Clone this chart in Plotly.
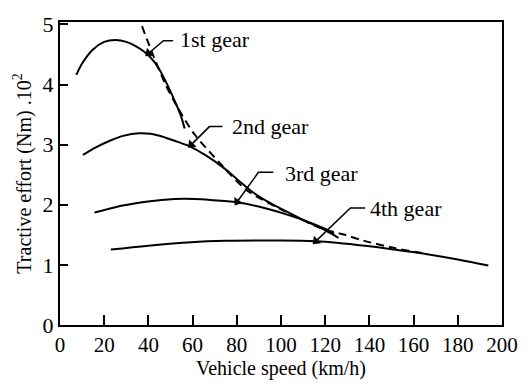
import math
import plotly.graph_objects as go

# ---- data (x: vehicle speed km/h, y: tractive effort x10^2 Nm) ----
gear1_x = [7.4, 10.0, 14.8, 20.0, 25.2, 30.0, 34.2, 38.0, 41.0, 44.5, 48.0, 52.0, 54.5, 56.4]
gear1_y = [4.16, 4.35, 4.58, 4.71, 4.74, 4.71, 4.64, 4.55, 4.45, 4.28, 4.04, 3.72, 3.50, 3.27]

gear2_x = [10.4, 16.0, 22.3, 29.0, 35.6, 41.0, 47.5, 53.0, 59.4, 66.0, 74.2, 80.0, 87.6, 95.0, 102.4, 110.0, 120.3, 126.0]
gear2_y = [2.83, 2.95, 3.06, 3.15, 3.19, 3.18, 3.12, 3.05, 2.96, 2.82, 2.61, 2.43, 2.20, 2.03, 1.89, 1.75, 1.57, 1.45]

gear3_x = [15.6, 25.0, 37.1, 46.0, 56.4, 68.0, 80.2, 92.0, 102.4, 112.0, 120.3, 124.0]
gear3_y = [1.87, 1.96, 2.04, 2.08, 2.10, 2.08, 2.04, 1.95, 1.84, 1.72, 1.595, 1.52]

gear4_x = [23.0, 40.0, 59.4, 75.0, 93.5, 115.8, 138.0, 160.4, 180.0, 193.8]
gear4_y = [1.254, 1.32, 1.378, 1.40, 1.405, 1.395, 1.32, 1.21, 1.09, 0.99]

ideal_x = [37.1, 41.6, 47.5, 53.5, 60.9, 72.7, 84.6, 102.4, 118.8, 129.0, 136.6, 151.4, 165.0]
ideal_y = [4.97, 4.54, 4.02, 3.60, 3.17, 2.68, 2.24, 1.88, 1.60, 1.50, 1.41, 1.28, 1.19]

x_ticks = [0, 20, 40, 60, 80, 100, 120, 140, 160, 180, 200]
y_ticks = [0, 1, 2, 3, 4, 5]

# labels: text, text position, leader: horizontal end -> corner -> arrow tip
labels = ["1st gear", "2nd gear", "3rd gear", "4th gear"]
label_pos = [(53.3, 4.75), (76.9, 3.30), (100.9, 2.52), (139.4, 1.93)]
hend_x = [51.2, 73.5, 96.5, 138.1]
corner_pos = [(46.8, 4.73), (67.6, 3.30), (89.8, 2.54), (131.4, 1.945)]
tip_pos = [(40.1, 4.52), (59.4, 3.00), (80.2, 2.05), (115.8, 1.395)]

FONT = "Liberation Serif"
W, H = 530, 385
ML, MR, MT, MB = 60, 21, 16, 58
XR, YR = [0, 200], [0, 5.04]
sx = (W - ML - MR) / (XR[1] - XR[0])
sy = (H - MT - MB) / (YR[1] - YR[0])

fig = go.Figure()
for xs, ys in [(gear1_x, gear1_y), (gear2_x, gear2_y), (gear3_x, gear3_y), (gear4_x, gear4_y)]:
    fig.add_trace(go.Scatter(x=xs, y=ys, mode="lines",
                             line=dict(color="black", width=2, shape="spline", smoothing=1.0),
                             showlegend=False, hoverinfo="skip"))
fig.add_trace(go.Scatter(x=ideal_x, y=ideal_y, mode="lines",
                         line=dict(color="black", width=2, dash="8px,5px", shape="spline", smoothing=0.8),
                         showlegend=False, hoverinfo="skip"))

for txt, (tx, ty), hx, (cx, cy), (px, py) in zip(labels, label_pos, hend_x, corner_pos, tip_pos):
    fig.add_annotation(x=tx, y=ty, text=txt, showarrow=False, xanchor="left", yanchor="middle",
                       font=dict(family=FONT, size=22, color="black"))
    fig.add_trace(go.Scatter(x=[hx, cx, px], y=[cy, cy, py], mode="lines",
                             line=dict(color="black", width=1.5),
                             showlegend=False, hoverinfo="skip"))
    ang = math.degrees(math.atan2((px - cx) * sx, (py - cy) * sy))
    fig.add_trace(go.Scatter(x=[px], y=[py], mode="markers",
                             marker=dict(symbol="triangle-up", size=9, color="black", angle=ang,
                                         line=dict(width=0)),
                             showlegend=False, hoverinfo="skip"))

fig.update_xaxes(range=XR, tickvals=x_ticks, ticks="inside", ticklen=10, tickwidth=2, tickcolor="black",
                 showline=True, linewidth=2, linecolor="black", mirror=True, showgrid=False, zeroline=False,
                 tickfont=dict(family=FONT, size=21, color="black"),
                 title=dict(text="Vehicle speed (km/h)", font=dict(family=FONT, size=20, color="black"), standoff=2))
fig.update_yaxes(range=YR, tickvals=y_ticks, ticks="inside", ticklen=8, tickwidth=2, tickcolor="black",
                 showline=True, linewidth=2, linecolor="black", mirror=True, showgrid=False, zeroline=False,
                 tickfont=dict(family=FONT, size=22, color="black"),
                 title=dict(text="Tractive effort (Nm) .10<sup>2</sup>", font=dict(family=FONT, size=20, color="black"), standoff=6))

fig.update_layout(width=W, height=H, margin=dict(l=ML, r=MR, t=MT, b=MB),
                  plot_bgcolor="white", paper_bgcolor="white")
fig.write_html("out.html")
